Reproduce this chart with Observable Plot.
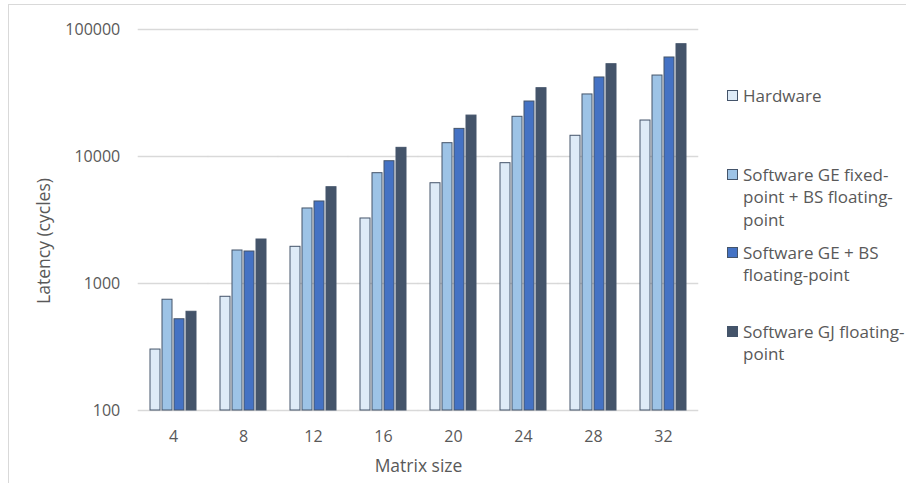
<!DOCTYPE html>
<html><head><meta charset="utf-8">
<script src="https://cdn.jsdelivr.net/npm/d3@7"></script>
<script src="https://cdn.jsdelivr.net/npm/@observablehq/plot@0.6"></script>
<style>
body{margin:0;background:#fff;}
#wrap{position:relative;width:906px;height:483px;overflow:hidden;font-family:"Open Sans",sans-serif;color:#595959;background:#fff;}
#frame{position:absolute;left:8px;top:4px;width:1000px;height:1000px;border-left:1px solid #d9d9d9;border-top:1px solid #d9d9d9;}
#chart{position:absolute;left:0;top:0;}
#ytitle{position:absolute;left:43px;top:241px;font-size:17.5px;white-space:nowrap;transform:translate(-50%,-50%) rotate(-90deg);}
.leg{position:absolute;left:727px;font-size:17px;line-height:22.5px;}
.sw{position:absolute;left:0;top:5.5px;width:9px;height:9px;border:1px solid #44546a;}
.lt{position:absolute;left:16px;top:0;white-space:nowrap;}
</style></head>
<body><div id="wrap"><div id="frame"></div><div id="chart"></div><div id="ytitle"></div><div id="legend"></div></div>
<script>
// ---- data ----
const sizes = [4, 8, 12, 16, 20, 24, 28, 32];
const seriesNames = [
  "Hardware",
  "Software GE fixed-point + BS floating-point",
  "Software GE + BS floating-point",
  "Software GJ floating-point"
];
const legendLines = [
  ["Hardware"],
  ["Software GE fixed-", "point + BS floating-", "point"],
  ["Software GE + BS", "floating-point"],
  ["Software GJ floating-", "point"]
];
const hardware = [302, 786, 1945, 3250, 6160, 8860, 14560, 19200];
const geFixedBsFloat = [745, 1819, 3897, 7390, 12730, 20540, 30800, 43400];
const geBsFloat = [523, 1786, 4424, 9180, 16500, 27100, 41900, 60200];
const gjFloat = [599, 2220, 5730, 11700, 21000, 34500, 53300, 76600];
const yTicks = [100, 1000, 10000, 100000];
const yLabel = "Latency (cycles)";
const xLabel = "Matrix size";

// ---- styles / layout ----
const seriesColors = ["#deebf7", "#9dc3e6", "#4472c4", "#44546a"];
const legendTops = [84.75, 163.75, 241.75, 320.75];
const W = 720, H = 483, ML = 136, MR = 20, MT = 29, MB = 73;
const fxPad = 0.32;
const fxStep = (W - ML - MR) / sizes.length;
const halfGap = fxStep * fxPad / 2;

const seriesValues = [hardware, geFixedBsFloat, geBsFloat, gjFloat];
const table = [];
sizes.forEach((s, i) => seriesNames.forEach((n, j) => table.push({size: s, series: n, value: seriesValues[j][i]})));

const chart = Plot.plot({
  width: W, height: H,
  marginLeft: ML, marginRight: MR, marginTop: MT, marginBottom: MB,
  style: {fontFamily: "'Open Sans', sans-serif", fontSize: "16px", color: "#595959", background: "transparent"},
  fx: {domain: sizes, paddingInner: fxPad, paddingOuter: fxPad / 2, label: null},
  x: {domain: seriesNames, paddingInner: 0.2, paddingOuter: 0, axis: null},
  y: {type: "log", domain: [yTicks[0], yTicks[yTicks.length - 1]]},
  color: {domain: seriesNames, range: seriesColors},
  marks: [
    Plot.gridY(yTicks, {stroke: "#d9d9d9", strokeOpacity: 1, strokeWidth: 1.3, insetLeft: -halfGap, insetRight: -halfGap}),
    Plot.axisY(yTicks, {tickSize: 0, tickPadding: 18 + halfGap, tickFormat: d => String(d), label: null}),
    Plot.axisFx({anchor: "bottom", tickSize: 0, tickPadding: 20, label: null}),
    Plot.barY(table, {fx: "size", x: "series", y1: yTicks[0], y2: "value", fill: "series", stroke: "#44546a", strokeWidth: 1}),
    Plot.text([xLabel], {facet: "super", frameAnchor: "bottom", dy: 61, fontSize: 17.5})
  ]
});
document.getElementById("chart").appendChild(chart);
document.getElementById("ytitle").textContent = yLabel;

const leg = document.getElementById("legend");
seriesNames.forEach((n, j) => {
  const d = document.createElement("div");
  d.className = "leg";
  d.style.top = legendTops[j] + "px";
  const sw = document.createElement("div");
  sw.className = "sw";
  sw.style.background = seriesColors[j];
  d.appendChild(sw);
  const t = document.createElement("div");
  t.className = "lt";
  t.innerHTML = legendLines[j].map(l => l.replace(/&/g, "&amp;")).join("<br>");
  d.appendChild(t);
  leg.appendChild(d);
});
</script>
</body></html>
